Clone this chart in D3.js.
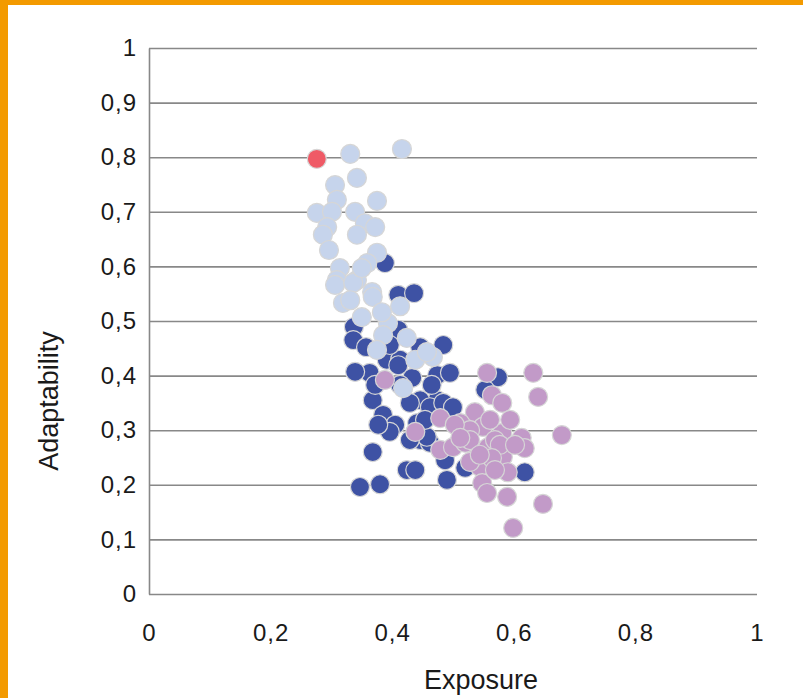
<!DOCTYPE html>
<html>
<head>
<meta charset="utf-8">
<script src="https://cdn.jsdelivr.net/npm/d3@7"></script>
<style>
  html, body { margin: 0; padding: 0; background: #fff; }
  svg { display: block; }
</style>
</head>
<body>
<script>
// ---- Data ----
const xTicks = [0, 0.2, 0.4, 0.6, 0.8, 1];
const yTicks = [0, 0.1, 0.2, 0.3, 0.4, 0.5, 0.6, 0.7, 0.8, 0.9, 1];
const xTitle = "Exposure";
const yTitle = "Adaptability";

const darkBlue = [
  [0.388,0.606],[0.410,0.548],[0.436,0.551],[0.337,0.489],[0.336,0.465],[0.410,0.484],
  [0.391,0.429],[0.363,0.405],[0.484,0.456],[0.474,0.401],[0.474,0.355],[0.368,0.355],
  [0.446,0.355],[0.385,0.328],[0.405,0.310],[0.396,0.297],[0.429,0.350],[0.462,0.342],
  [0.441,0.313],[0.446,0.282],[0.462,0.277],[0.368,0.260],[0.424,0.227],[0.438,0.227],
  [0.347,0.196],[0.380,0.201],[0.487,0.245],[0.490,0.209],[0.618,0.223],[0.574,0.397],
  [0.553,0.374],[0.495,0.405],[0.484,0.350],[0.500,0.342],[0.457,0.288],[0.520,0.231],
  [0.536,0.322],[0.357,0.452],[0.413,0.429],[0.433,0.396],[0.413,0.383],[0.465,0.383],
  [0.372,0.383],[0.396,0.456],[0.446,0.452],[0.410,0.419],[0.454,0.319],[0.429,0.282],
  [0.339,0.407],[0.377,0.310]
];
const lightBlue = [
  [0.331,0.806],[0.416,0.815],[0.342,0.762],[0.306,0.749],[0.375,0.720],[0.309,0.722],
  [0.276,0.698],[0.301,0.700],[0.339,0.700],[0.293,0.672],[0.355,0.679],[0.372,0.672],
  [0.342,0.658],[0.286,0.658],[0.296,0.630],[0.375,0.625],[0.359,0.606],[0.314,0.597],
  [0.309,0.575],[0.342,0.575],[0.367,0.553],[0.319,0.533],[0.368,0.544],[0.413,0.527],
  [0.306,0.566],[0.336,0.570],[0.350,0.507],[0.393,0.496],[0.385,0.474],[0.424,0.469],
  [0.375,0.447],[0.438,0.429],[0.467,0.434],[0.457,0.443],[0.418,0.377],[0.383,0.516],
  [0.350,0.597],[0.331,0.538]
];
const purple = [
  [0.388,0.392],[0.438,0.297],[0.479,0.322],[0.479,0.264],[0.500,0.269],[0.556,0.405],
  [0.632,0.405],[0.564,0.364],[0.581,0.350],[0.640,0.361],[0.536,0.333],[0.549,0.306],
  [0.581,0.295],[0.613,0.286],[0.618,0.267],[0.679,0.291],[0.539,0.264],[0.558,0.269],
  [0.582,0.251],[0.544,0.233],[0.590,0.223],[0.548,0.203],[0.556,0.185],[0.589,0.178],
  [0.648,0.165],[0.599,0.121],[0.512,0.313],[0.520,0.277],[0.528,0.300],[0.569,0.282],
  [0.577,0.273],[0.528,0.242],[0.503,0.310],[0.564,0.249],[0.528,0.282],[0.561,0.319],
  [0.594,0.319],[0.544,0.255],[0.569,0.227],[0.602,0.273],[0.512,0.286]
];
const red = [[0.276,0.797]];

const seriesColors = { darkBlue: "#3e52a4", lightBlue: "#c6d4ec", purple: "#c29ac8", red: "#ef5a66" };

// ---- Layout ----
const W = 803, H = 698;
const svg = d3.select("body").append("svg").attr("width", W).attr("height", H);

// orange frame (top and left)
svg.append("rect").attr("x", 0).attr("y", 0).attr("width", W).attr("height", 5).attr("fill", "#f39a00");
svg.append("rect").attr("x", 0).attr("y", 0).attr("width", 8).attr("height", H).attr("fill", "#f39a00");

const x = d3.scaleLinear().domain([0, 1]).range([149, 757]);
const y = d3.scaleLinear().domain([0, 1]).range([594, 48]);

const loc = d3.formatLocale({ decimal: ",", thousands: ".", grouping: [3], currency: ["", ""] });
const fmt = loc.format(".1~f");

const font = "'Liberation Sans', Arial, sans-serif";

// y axis with gridlines
const gy = svg.append("g").attr("transform", `translate(${x(0)},0)`)
  .call(d3.axisLeft(y).tickValues(yTicks).tickFormat(fmt).tickSize(-(x(1) - x(0))).tickSizeOuter(0).tickPadding(12));
gy.select(".domain").attr("stroke", "#888").attr("stroke-width", 1.6);
gy.selectAll(".tick line").attr("stroke", "#888").attr("stroke-width", 1.6);
gy.selectAll(".tick text").attr("fill", "#1a1a1a").style("font-family", font)
  .style("font-size", "24px").style("letter-spacing", "1px");

// x axis labels
const gx = svg.append("g").attr("transform", `translate(0,${y(0)})`)
  .call(d3.axisBottom(x).tickValues(xTicks).tickFormat(fmt).tickSize(0).tickPadding(30));
gx.select(".domain").remove();
gx.selectAll(".tick text").attr("fill", "#1a1a1a").style("font-family", font)
  .style("font-size", "24px").style("letter-spacing", "1px");

// axis titles
svg.append("text").attr("x", 481).attr("y", 689).attr("text-anchor", "middle")
  .style("font-family", font).style("font-size", "27px").attr("fill", "#1a1a1a").text(xTitle);
svg.append("text").attr("transform", "translate(58,401) rotate(-90)").attr("text-anchor", "middle")
  .style("font-family", font).style("font-size", "27px").attr("fill", "#1a1a1a").text(yTitle);

// points
function drawSeries(data, color) {
  svg.append("g").selectAll("circle").data(data).join("circle")
    .attr("cx", d => x(d[0])).attr("cy", d => y(d[1])).attr("r", 9.5)
    .attr("fill", color).attr("stroke", "#d6d6d6").attr("stroke-width", 1.2);
}
drawSeries(darkBlue, seriesColors.darkBlue);
drawSeries(lightBlue, seriesColors.lightBlue);
drawSeries(purple, seriesColors.purple);
drawSeries(red, seriesColors.red);
</script>
</body>
</html>
